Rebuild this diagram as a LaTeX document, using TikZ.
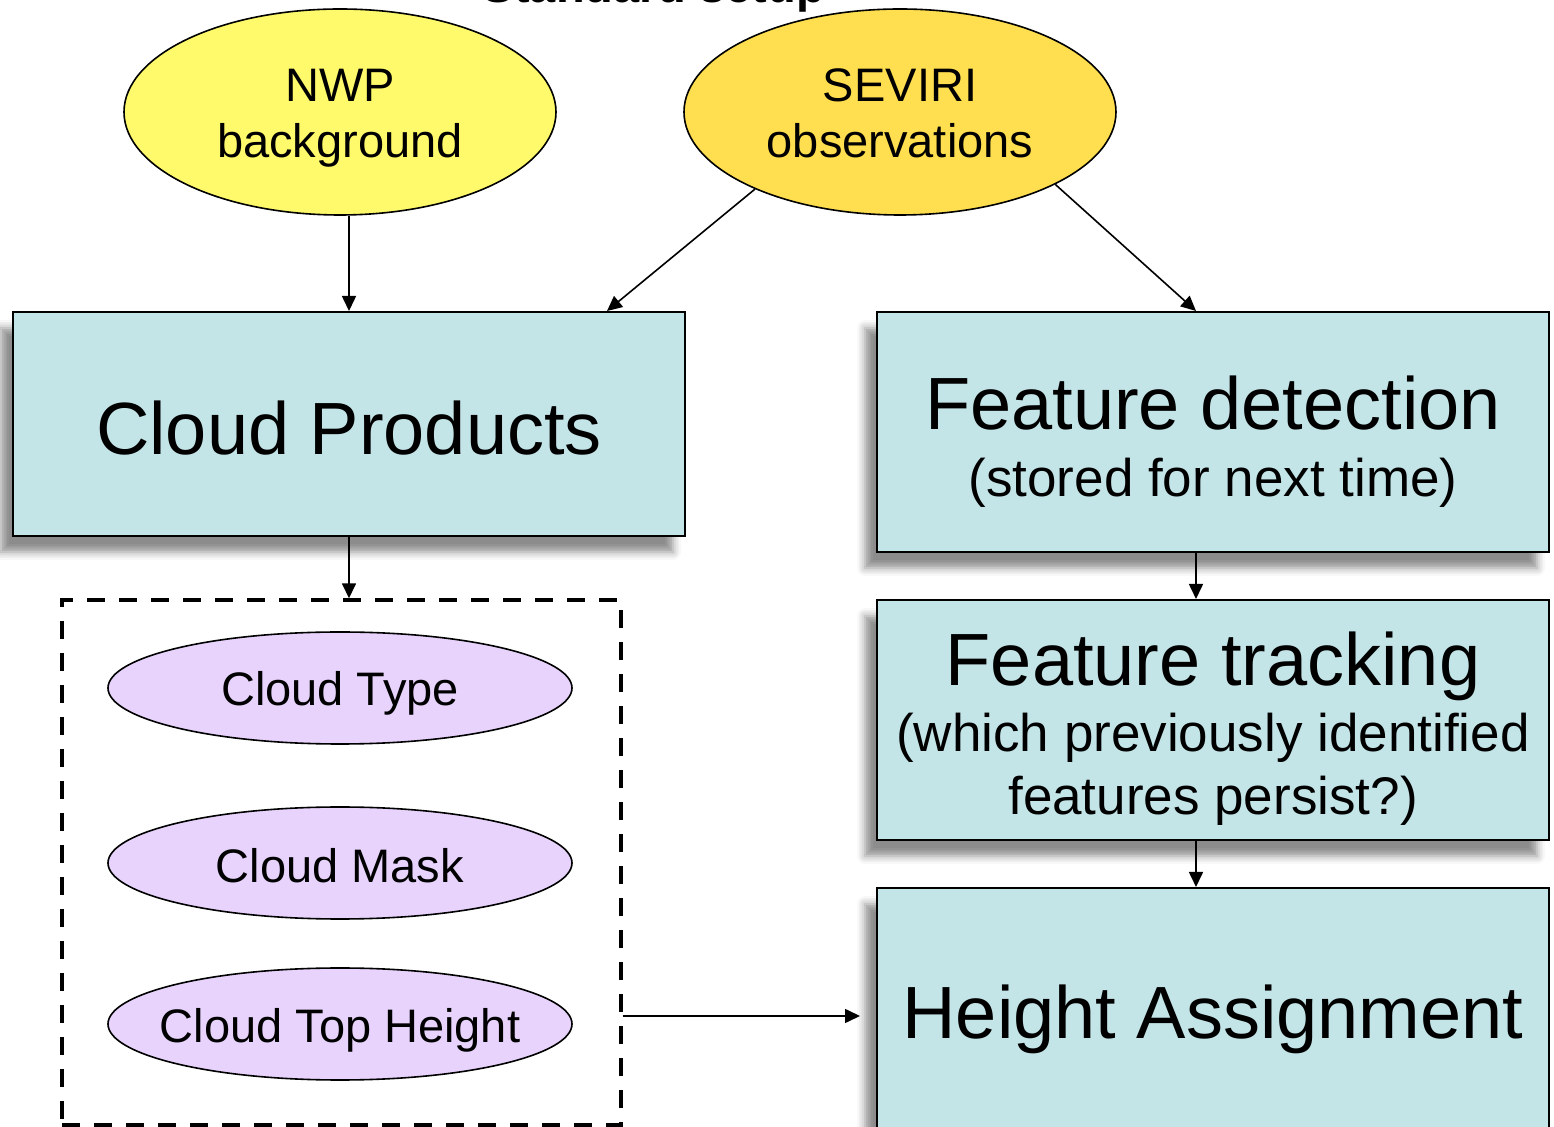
\documentclass[tikz,border=0pt]{standalone}
\usepackage{fontspec}
\setmainfont{Liberation Sans}
\usetikzlibrary{shapes.geometric,shadows.blur,arrows.meta}
\definecolor{boxc}{HTML}{C4E5E8}
\definecolor{nwpc}{HTML}{FFFA6B}
\definecolor{sevc}{HTML}{FFDF4F}
\definecolor{purc}{HTML}{E8D3FC}
\begin{document}
\begin{tikzpicture}[x=0.5pt,y=-0.5pt,
  box/.style={draw=black, line width=1pt, fill=boxc, minimum width=336pt, minimum height=112pt, inner sep=0pt, align=center,
    blur shadow={shadow xshift=-6pt, shadow yshift=-8pt, shadow blur radius=4pt, shadow opacity=45}},
  bigf/.style={font=\fontsize{37}{40}\selectfont},
  medf/.style={font=\fontsize{26.5}{32}\selectfont},
  smf/.style={font=\fontsize{23.5}{28}\selectfont},
  src/.style={ellipse, draw=black, line width=0.8pt, minimum width=216pt, minimum height=103pt, inner sep=0pt},
  prod/.style={ellipse, draw=black, line width=0.8pt, fill=purc, minimum width=232pt, minimum height=56pt, inner sep=0pt},
  arr/.style={draw=black, line width=0.8pt, -{Triangle[length=7.5pt,width=7pt]}}
]
\useasboundingbox (0,0) rectangle (1554,1127);
\node[font=\bfseries\fontsize{23.5}{28}\selectfont, anchor=base] (title) at (654,3) {Standard setup};
\node[src, fill=nwpc] (nwp) at (340,112) {};
\node[smf, anchor=base] (nwpt1) at (340,102) {NWP};
\node[smf, anchor=base] (nwpt2) at (340,158) {background};
\node[src, fill=sevc] (sev) at (900,112) {};
\node[smf, anchor=base] (sevt1) at (900,102) {SEVIRI};
\node[smf, anchor=base] (sevt2) at (900,158) {observations};
\node[box, minimum height=112pt] (cp) at (349,424) {};
\node[bigf, anchor=base] (cpt) at (349,455) {Cloud Products};
\node[box, minimum height=120pt] (fd) at (1213,432) {};
\node[bigf, anchor=base] (fdt1) at (1213,430) {Feature detection};
\node[medf, anchor=base] (fdt2) at (1213,497) {(stored for next time)};
\node[box, minimum height=120pt] (ft) at (1213,720) {};
\node[bigf, anchor=base] (ftt1) at (1213,686) {Feature tracking};
\node[medf, anchor=base] (ftt2) at (1213,752) {(which previously identified};
\node[medf, anchor=base] (ftt3) at (1213,815) {features persist?)};
\node[box, minimum height=130pt] (ha) at (1213,1018) {};
\node[bigf, anchor=base] (hat) at (1213,1038) {Height Assignment};
\node[draw=black, line width=1.7pt, dash pattern=on 9pt off 7pt, minimum width=279.5pt, minimum height=262.5pt, inner sep=0pt] (grp) at (341.5,862.5) {};
\node[prod] (ctype) at (340,688) {};
\node[smf, anchor=base] (ctypet) at (340,706) {Cloud Type};
\node[prod] (cmask) at (340,863) {};
\node[smf, anchor=base] (cmaskt) at (340,883) {Cloud Mask};
\node[prod] (cth) at (340,1024) {};
\node[smf, anchor=base] (ctht) at (340,1043) {Cloud Top Height};
\coordinate (col) at (1196,0);
\coordinate (hain) at (860,1016);
\draw[arr] (cp.north |- nwp.south) -- (cp.north);
\draw[arr] (sev.208) -- ([xshift=-39.5pt]cp.north east);
\draw[arr] (sev.335) -- (col |- fd.north);
\draw[arr] (cp.south) -- (cp.south |- grp.north);
\draw[arr] (col |- fd.south) -- (col |- ft.north);
\draw[arr] (col |- ft.south) -- (col |- ha.north);
\draw[arr] (grp.east |- hain) -- (hain);
\end{tikzpicture}
\end{document}
